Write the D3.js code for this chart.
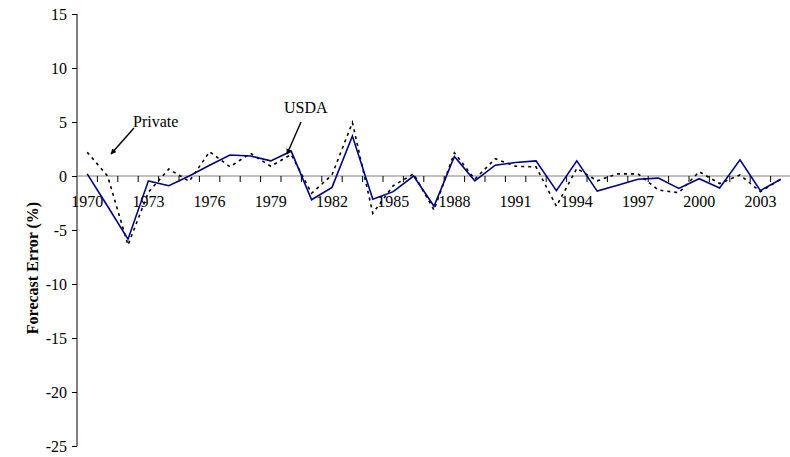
<!DOCTYPE html>
<html><head><meta charset="utf-8">
<script src="https://cdn.jsdelivr.net/npm/d3@7"></script>
<style>body{margin:0;background:#fff}svg{display:block}text{font-family:"Liberation Serif","Times New Roman",serif}</style>
</head><body><svg id="c" width="790" height="457"></svg>
<script>
const years = d3.range(1970, 2005);
const usda = [0.2,-2.8,-5.85,-0.45,-0.9,0.0,1.0,1.95,1.85,1.4,2.3,-2.2,-1.05,3.7,-2.15,-1.45,0.0,-2.8,1.8,-0.45,1.0,1.25,1.4,-1.35,1.4,-1.4,-0.85,-0.3,-0.2,-1.15,-0.25,-1.1,1.5,-1.35,-0.3];
const privateF = [2.2,0.0,-6.4,-1.5,0.65,-0.5,2.25,0.85,2.1,0.9,2.0,-1.6,0.1,4.95,-3.45,-0.9,0.2,-3.15,2.15,-0.3,1.6,0.9,0.85,-2.8,0.7,-0.45,0.2,0.2,-1.3,-1.55,0.4,-0.7,0.1,-1.45,-0.3];
const yTicks = [15,10,5,0,-5,-10,-15,-20,-25];
const xLabelYears = [1970,1973,1976,1979,1982,1985,1988,1991,1994,1997,2000,2003];

const svg = d3.select("#c");
const x = d3.scaleBand().domain(years).range([77, 791]).paddingInner(0).paddingOuter(0);
const y = d3.scaleLinear().domain([-25, 15]).range([446, 14]);
const cx = d => x(d) + x.bandwidth()/2;

// y axis
const ya = svg.append("g").attr("transform","translate(77,0)")
  .call(d3.axisLeft(y).tickValues(yTicks).tickSize(5).tickPadding(5).tickFormat(d => String(d)));
ya.select(".domain").attr("stroke","#000").attr("d","M0,14V446");
ya.selectAll(".tick line").attr("stroke","#000");
ya.selectAll("text").attr("font-size",16).attr("fill","#000").attr("font-family","Liberation Serif");

// x axis at zero
const xa = svg.append("g").attr("transform",`translate(0,${y(0)})`);
xa.append("line").attr("x1",77).attr("x2",791).attr("y1",0).attr("y2",0).attr("stroke","#808080").attr("stroke-width",1.2);
const bounds = years.map(d => x(d)).concat([x(years[years.length-1]) + x.bandwidth()]);
xa.selectAll("line.t").data(bounds.slice(1)).join("line").attr("class","t")
  .attr("x1",d=>d).attr("x2",d=>d).attr("y1",0).attr("y2",6).attr("stroke","#000");
xa.selectAll("text").data(xLabelYears).join("text")
  .attr("x",d=>cx(d)).attr("y",31).attr("text-anchor","middle").attr("font-size",16).text(d=>d);

// lines
const line = d3.line().x((d,i)=>cx(years[i])).y(d=>y(d));
svg.append("path").datum(privateF).attr("d",line).attr("fill","none").attr("stroke","#000").attr("stroke-width",1.6).attr("stroke-dasharray","3,4");
svg.append("path").datum(usda).attr("d",line).attr("fill","none").attr("stroke","#000080").attr("stroke-width",1.6);

// y title
svg.append("text").attr("transform","translate(38,268) rotate(-90)").attr("text-anchor","middle")
  .attr("font-size",16).attr("font-weight","bold").text("Forecast Error (%)");

// annotations
const defs = svg.append("defs");
defs.append("marker").attr("id","ah").attr("viewBox","0 0 10 10").attr("refX",9).attr("refY",5)
  .attr("markerWidth",4).attr("markerHeight",4).attr("orient","auto")
  .append("path").attr("d","M0,0L10,5L0,10z").attr("fill","#000");
svg.append("text").attr("x",133).attr("y",127).attr("font-size",16).text("Private");
svg.append("line").attr("x1",134).attr("y1",128).attr("x2",111).attr("y2",154).attr("stroke","#000").attr("stroke-width",1.4).attr("marker-end","url(#ah)");
svg.append("text").attr("x",284).attr("y",113).attr("font-size",16).text("USDA");
svg.append("line").attr("x1",301).attr("y1",122).attr("x2",287).attr("y2",154).attr("stroke","#000").attr("stroke-width",1.4).attr("marker-end","url(#ah)");
</script></body></html>
